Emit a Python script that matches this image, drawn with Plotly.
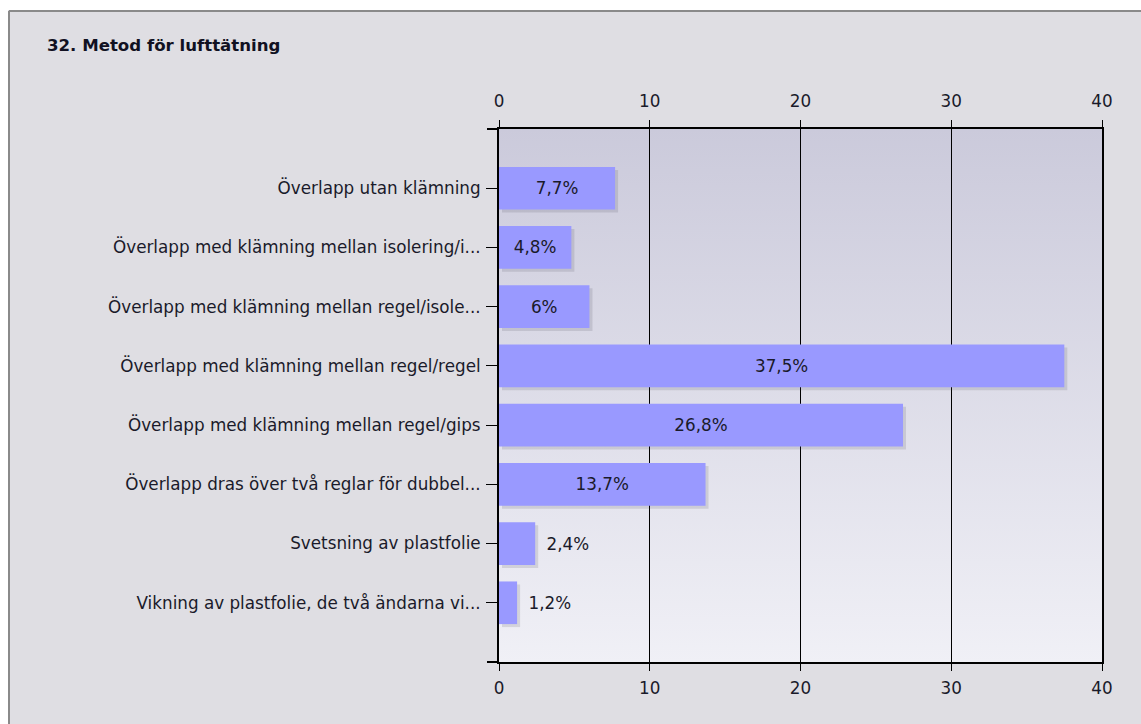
import base64
import plotly.graph_objects as go

# ---- data ----
categories = [
    "Överlapp utan klämning",
    "Överlapp med klämning mellan isolering/i...",
    "Överlapp med klämning mellan regel/isole...",
    "Överlapp med klämning mellan regel/regel",
    "Överlapp med klämning mellan regel/gips",
    "Överlapp dras över två reglar för dubbel...",
    "Svetsning av plastfolie",
    "Vikning av plastfolie, de två ändarna vi...",
]
values = [7.7, 4.8, 6.0, 37.5, 26.8, 13.7, 2.4, 1.2]
value_labels = ["7,7%", "4,8%", "6%", "37,5%", "26,8%", "13,7%", "2,4%", "1,2%"]
x_ticks = [0, 10, 20, 30, 40]
title_text = "32. Metod för lufttätning"

# ---- layout geometry (pixels) ----
W, H = 1141, 724
L, R, T, B = 499, W - 1102, 129, H - 662
PW, PH = W - L - R, H - T - B
XMAX = 40
n = len(categories)

def px_x(p):
    return (p - L) / PW

def px_y(p):
    return (H - B - p) / PH

FONT = "DejaVu Sans"
FS = 16.8
TXT = "#1a1a2a"

# gradient background for plot area
svg = ('<svg xmlns="http://www.w3.org/2000/svg" width="10" height="100" preserveAspectRatio="none">'
       '<defs><linearGradient id="g" x1="0" y1="0" x2="0" y2="1">'
       '<stop offset="0" stop-color="#cbcadb"/><stop offset="1" stop-color="#f0f0f6"/>'
       '</linearGradient></defs><rect width="10" height="100" fill="url(#g)"/></svg>')
bg_uri = "data:image/svg+xml;base64," + base64.b64encode(svg.encode()).decode()

BW = 0.72
shift_x = 3 * XMAX / PW
shift_y = 3 * (n + 1) / PH

positions = ["inside" if v >= 4 else "outside" for v in values]
templates = ["%{text}" if p == "inside" else "\u2002%{text}" for p in positions]

fig = go.Figure()
# shadow
fig.add_trace(go.Bar(
    x=values, y=categories, orientation="h", base=shift_x,
    width=BW, offset=-BW / 2 + shift_y,
    marker=dict(color="rgba(60,60,70,0.14)", line=dict(width=0)),
    hoverinfo="skip", showlegend=False,
))
# main bars
fig.add_trace(go.Bar(
    x=values, y=categories, orientation="h",
    width=BW, offset=-BW / 2,
    marker=dict(color="#9999ff", line=dict(width=0)),
    text=value_labels, texttemplate=templates, textposition=positions,
    insidetextanchor="middle", constraintext="none",
    textfont=dict(family=FONT, size=FS, color=TXT),
    insidetextfont=dict(family=FONT, size=FS, color=TXT),
    outsidetextfont=dict(family=FONT, size=FS, color=TXT),
    cliponaxis=False, showlegend=False, hoverinfo="skip",
))
# invisible trace for bottom axis labels
fig.add_trace(go.Scatter(x=[0, XMAX], y=[categories[0], categories[0]], xaxis="x3",
                         mode="markers", marker=dict(opacity=0), hoverinfo="skip",
                         showlegend=False))

axis_font = dict(family=FONT, size=FS, color=TXT)
fig.update_layout(
    width=W, height=H, autosize=False,
    margin=dict(l=L, r=R, t=T, b=B, pad=0),
    paper_bgcolor="#dfdee3",
    plot_bgcolor="rgba(0,0,0,0)",
    barmode="overlay",
    xaxis=dict(side="top", range=[0, XMAX], tickvals=x_ticks, ticks="outside",
               ticklen=7, tickcolor="black", tickwidth=1, showline=True,
               linecolor="black", linewidth=2, mirror="ticks",
               showgrid=True, gridcolor="black", gridwidth=1, zeroline=False,
               tickfont=axis_font, ticklabelstandoff=6, fixedrange=True),
    xaxis3=dict(side="bottom", overlaying="x", range=[0, XMAX], tickvals=x_ticks,
                ticks="", showline=False, showgrid=False, zeroline=False,
                tickfont=axis_font, ticklabelstandoff=14),
    yaxis=dict(type="category", categoryarray=categories, range=[n, -1],
               ticks="outside", ticklen=11, tickcolor="black", tickwidth=1,
               showline=True, linecolor="black", linewidth=2, mirror=True,
               showgrid=False, tickfont=axis_font, ticklabelstandoff=2),
    images=[dict(source=bg_uri, xref="paper", yref="paper", x=0, y=1,
                 sizex=1, sizey=1, sizing="stretch", layer="below",
                 xanchor="left", yanchor="top")],
    annotations=[dict(text="<b>" + title_text + "</b>", xref="paper", yref="paper",
                      x=px_x(45), y=px_y(45), xanchor="left", yanchor="middle",
                      showarrow=False, font=dict(family=FONT, size=16.6, color="#111122"))],
    shapes=[
        # white margins outside the panel border
        dict(type="rect", xref="paper", yref="paper", x0=px_x(-20), x1=px_x(W + 20),
             y0=px_y(10), y1=px_y(-20), fillcolor="white", line=dict(width=0)),
        dict(type="rect", xref="paper", yref="paper", x0=px_x(-20), x1=px_x(8),
             y0=px_y(H + 20), y1=px_y(-20), fillcolor="white", line=dict(width=0)),
        # panel border
        dict(type="line", xref="paper", yref="paper", x0=px_x(9), x1=px_x(W + 20),
             y0=px_y(11), y1=px_y(11), line=dict(color="#8a8a8a", width=2)),
        dict(type="line", xref="paper", yref="paper", x0=px_x(9), x1=px_x(9),
             y0=px_y(11), y1=px_y(H + 20), line=dict(color="#8a8a8a", width=2)),
        # axis line stubs extending left of the plot
        dict(type="line", xref="paper", yref="paper", x0=px_x(L - 12), x1=0,
             y0=1, y1=1, line=dict(color="black", width=2)),
        dict(type="line", xref="paper", yref="paper", x0=px_x(L - 12), x1=0,
             y0=0, y1=0, line=dict(color="black", width=2)),
    ],
)

fig.write_html("out.html", config={"displayModeBar": False},
               post_script="document.body.style.margin='0';document.body.style.overflow='hidden';")
